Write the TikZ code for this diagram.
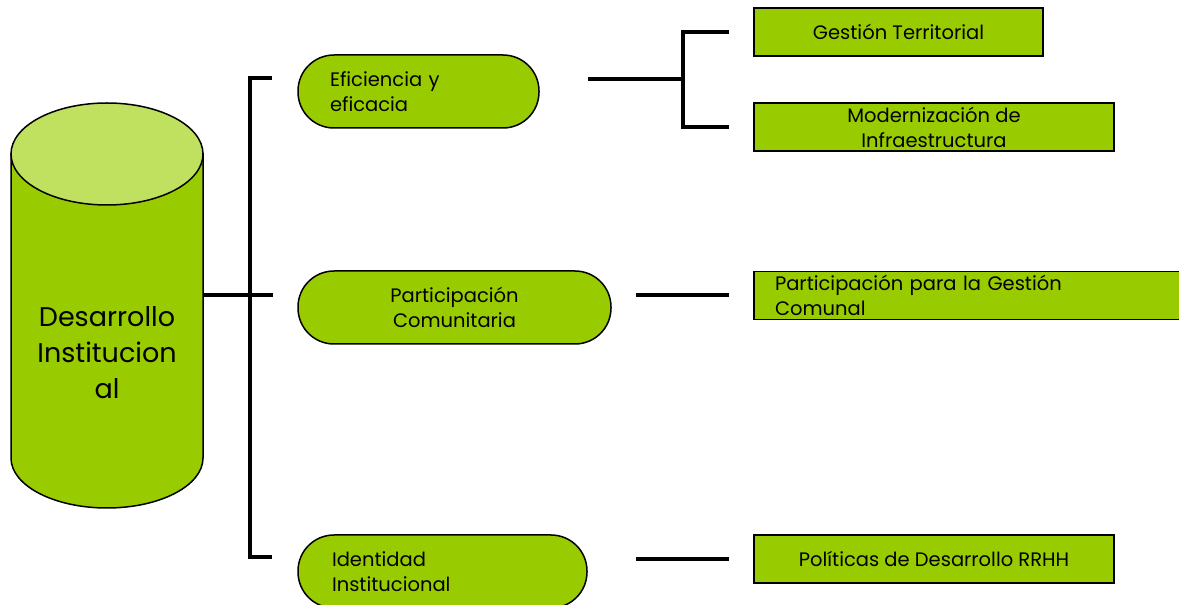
\documentclass[tikz,border=0pt]{standalone}
\usepackage{fontspec}
\setmainfont{Poppins}
\usetikzlibrary{calc}
\definecolor{leaf}{RGB}{153,204,0}
\definecolor{leaflight}{RGB}{192,224,96}

\begin{document}
\begin{tikzpicture}[x=1pt,y=1pt]
  \tikzstyle{oval} = [draw, line width=1.5pt, fill=leaf, rectangle, rounded corners=36pt, minimum height=73pt, inner sep=0pt, font={\fontsize{19.5}{25}\selectfont}]
  \tikzstyle{box} = [draw, line width=1.5pt, fill=leaf, rectangle, minimum height=48pt, inner sep=0pt, align=center, font={\fontsize{19.5}{25}\selectfont}]
  \tikzstyle{link} = [black, line width=4pt];

  \useasboundingbox (0,0) rectangle (1179,605);
  \clip (0,0) rectangle (1179,605);

  % cylinder
  \filldraw[line width=1.5pt, fill=leaf] (11,451) -- (11,147) arc[start angle=180, end angle=360, x radius=96, y radius=50] -- (203,451) -- cycle;
  \filldraw[line width=1.5pt, fill=leaflight] (107,451) ellipse[x radius=96, y radius=51];
  \node[align=center, font={\fontsize{27}{36}\selectfont}] (desa) at (107,252) {Desarrollo\\Institucion\\al};

  \node[oval, minimum width=241pt, text width=177pt, align=left] (efi)   at (418.5,513.5) {Eficiencia y\\eficacia};
  \node[oval, minimum width=313pt, align=center]                 (part)  at (454.5,297.5) {Participación\\Comunitaria};
  \node[oval, minimum width=289pt, text width=221pt, align=left] (ident) at (442.5,33.5)  {Identidad\\Institucional};

  \node[box, minimum width=289pt] (gest)  at (898.5,573) {Gestión Territorial};
  \node[box, minimum width=360pt] (mod)   at (934,478)   {Modernización de\\Infraestructura};
  \node[box, minimum width=436pt, text width=394pt, align=left] (gpart) at (972,309.5) {Participación para la Gestión\\Comunal};
  \node[box, minimum width=360pt] (pol)   at (934,46)    {Políticas de Desarrollo RRHH};

  % brackets
  \coordinate (bt) at (250,527);
  \coordinate (bb) at (250,48);
  \coordinate (cylE) at (203,310);
  \coordinate (j1) at (683,526);

  \draw[link, shorten <=25pt, shorten >=25pt] (bt -| efi.west) -- (bt) -- (bb) -- (bb -| ident.west);
  \draw[link, shorten >=24pt] (cylE) -- (cylE -| part.west);

  \draw[link, shorten <=48pt] (efi.east |- j1) -- (j1);
  \draw[link, shorten >=24pt] (j1) |- (gest.west);
  \draw[link, shorten >=24pt] (j1) |- (mod.west);
  \draw[link, shorten <=24pt, shorten >=24pt] (part.east |- gpart.west) -- (gpart.west);
  \draw[link, shorten <=48pt, shorten >=24pt] (ident.east |- pol.west) -- (pol.west);
\end{tikzpicture}
\end{document}
